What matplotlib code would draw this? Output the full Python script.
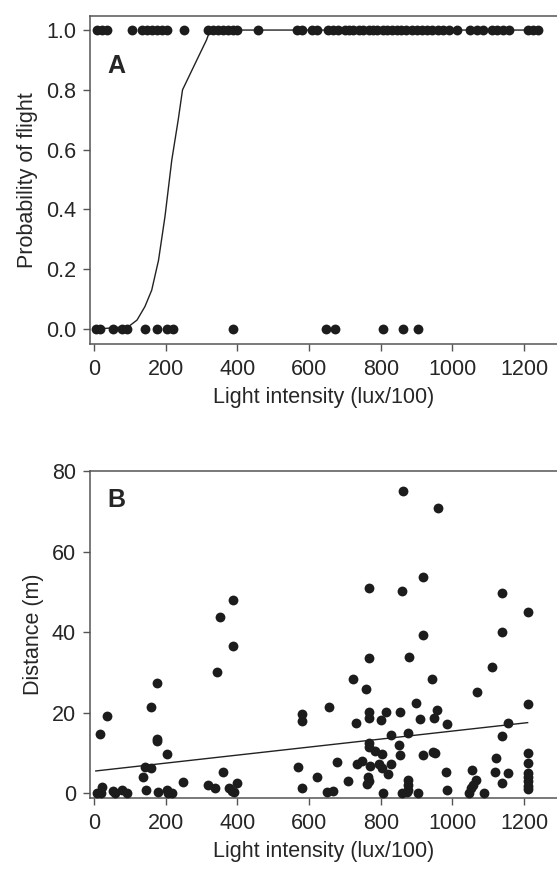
import matplotlib
matplotlib.use("Agg")
import matplotlib.pyplot as plt
import numpy as np

plt.rcParams['font.family'] = ['Liberation Sans', 'DejaVu Sans']

# ---------------- Panel A data ----------------
flight_x = [7, 21, 35, 105, 133, 147, 161, 175, 189, 205, 251, 319, 333, 347, 361, 375,
            389, 400, 459, 566, 580, 608, 621, 654, 668, 682, 700, 712, 724, 739, 752,
            766, 779, 790, 806, 818, 831, 846, 858, 871, 886, 901, 915, 930, 944, 959,
            975, 992, 1012, 1049, 1068, 1086, 1110, 1124, 1142, 1159, 1212, 1226, 1240]
noflight_x = [6, 17, 52, 77, 93, 142, 175, 203, 220, 389, 647, 673, 806, 861, 905]

curve_x = [7, 96, 120, 142, 161, 180, 198, 217, 235, 247, 287, 314, 324, 1240]
curve_y = [0.0, 0.008, 0.03, 0.075, 0.13, 0.23, 0.376, 0.565, 0.70, 0.80, 0.90, 0.967, 1.0, 1.0]

# ---------------- Panel B data ----------------
dist_x = [7, 19, 21, 17, 37, 54, 59, 79, 93, 136, 143, 159, 158, 177, 177, 177, 203, 144,
          178, 205, 207, 219, 249, 319, 339, 344, 352, 389, 389, 359, 378, 384, 391, 400,
          570, 581, 581, 581, 621, 657, 649, 668, 679, 708, 722, 731, 733, 747, 759, 768,
          767, 766, 768, 766, 767, 769, 765, 766, 763, 784, 802, 815, 796, 805, 803, 807,
          821, 830, 828, 852, 854, 854, 861, 860, 875, 880, 860, 875, 875, 875, 873, 899,
          904, 910, 919, 919, 919, 944, 945, 952, 950, 958, 959, 984, 981, 984, 1047, 1051,
          1057, 1054, 1066, 1070, 1087, 1112, 1122, 1119, 1139, 1139, 1139, 1139, 1155,
          1155, 1210, 1210, 1210, 1210, 1210, 1210, 1210, 1210, 1210]
dist_y = [0.0, 0.2, 1.6, 14.7, 19.2, 0.5, 0.0, 0.8, 0.0, 4.0, 6.6, 6.2, 21.5, 27.4, 13.6,
          13.0, 9.7, 0.8, 0.4, 0.8, 0.0, 0.0, 2.9, 2.1, 1.4, 30.0, 43.8, 48.1, 36.5, 5.2,
          1.2, 0.6, 0.3, 2.6, 6.6, 1.4, 19.8, 18.0, 4.1, 21.5, 0.3, 0.5, 7.7, 3.05, 28.4,
          17.5, 7.2, 7.9, 25.8, 33.5, 51.0, 20.2, 18.8, 12.4, 11.6, 6.8, 4.1, 3.1, 2.2,
          10.6, 18.2, 20.1, 7.2, 6.4, 9.7, 0.0, 4.7, 14.5, 7.3, 12.1, 9.5, 20.1, 75.0,
          50.2, 15.0, 33.9, 0.2, 0.8, 2.0, 3.3, 0.4, 22.5, 0.0, 18.4, 53.6, 39.2, 9.5,
          28.4, 10.3, 9.9, 18.7, 20.8, 70.8, 17.2, 5.2, 0.9, 0.2, 1.2, 2.0, 5.9, 3.4, 25.2,
          0.0, 31.4, 8.8, 5.2, 49.7, 40.1, 14.3, 2.5, 17.5, 5.0, 44.9, 22.1, 9.9, 7.4, 5.0,
          4.0, 3.0, 1.9, 1.1]
fit_intercept = 5.5
fit_slope = 0.00995

x_ticks = [0, 200, 400, 600, 800, 1000, 1200]
a_yticks = [0.0, 0.2, 0.4, 0.6, 0.8, 1.0]
b_yticks = [0, 20, 40, 60, 80]

W, H = 557, 874
fig = plt.figure(figsize=(W / 100, H / 100), dpi=100)

def frac(left, top, right, bottom):
    return [left / W, 1 - bottom / H, (right - left) / W, (bottom - top) / H]

spine_c = '#555555'
dot_c = '#1c1c1c'
txt_c = '#262626'
fs = 15.5

axA = fig.add_axes(frac(90, 16, 557, 344))
axB = fig.add_axes(frac(90, 471, 557, 797.5))

for ax in (axA, axB):
    ax.spines['right'].set_visible(False)
    for s in ('left', 'top', 'bottom'):
        ax.spines[s].set_color(spine_c)
        ax.spines[s].set_linewidth(1.1)
    ax.tick_params(direction='out', length=5, width=1, color=spine_c,
                   labelsize=fs, labelcolor=txt_c, pad=5)
    ax.tick_params(axis='x', pad=6)
    ax.set_xlim(-11.2, 1292)
    ax.set_xticks(x_ticks)
    ax.set_xlabel('Light intensity (lux/100)', fontsize=fs, color=txt_c, labelpad=5)

# Panel A
axA.set_ylim(-0.05, 1.047)
axA.set_yticks(a_yticks)
axA.set_yticklabels([f'{v:.1f}' for v in a_yticks])
axA.plot(curve_x, curve_y, color='#222222', lw=1.0, zorder=2)
axA.scatter(flight_x, [1.0] * len(flight_x), s=50, color=dot_c, zorder=3, linewidths=0)
axA.scatter(noflight_x, [0.0] * len(noflight_x), s=50, color=dot_c, zorder=3, linewidths=0)
axA.set_ylabel('Probability of flight', fontsize=fs, color=txt_c, labelpad=6)

# Panel B
axB.set_ylim(-1.04, 80)
axB.set_yticks(b_yticks)
xs = np.array([5, 1210])
axB.plot(xs, fit_intercept + fit_slope * xs, color='#222222', lw=1.0, zorder=2)
axB.scatter(dist_x, dist_y, s=50, color=dot_c, zorder=3, linewidths=0)
axB.set_ylabel('Distance (m)', fontsize=fs, color=txt_c, labelpad=6)

# panel letters
fig.text(107 / W, 1 - 73 / H, 'A', fontsize=18, fontweight='bold', color=txt_c)
fig.text(107 / W, 1 - 507 / H, 'B', fontsize=18, fontweight='bold', color=txt_c)

fig.savefig('out.png', dpi=100)
